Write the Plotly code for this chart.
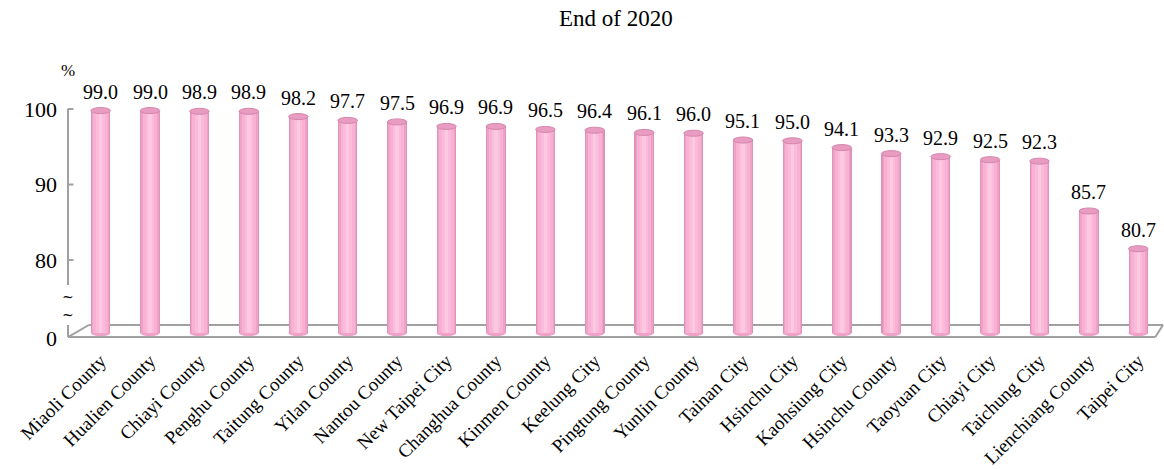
import plotly.graph_objects as go

categories = ["Miaoli County", "Hualien County", "Chiayi County", "Penghu County",
              "Taitung County", "Yilan County", "Nantou County", "New Taipei City",
              "Changhua County", "Kinmen County", "Keelung City", "Pingtung County",
              "Yunlin County", "Tainan City", "Hsinchu City", "Kaohsiung City",
              "Hsinchu County", "Taoyuan City", "Chiayi City", "Taichung City",
              "Lienchiang County", "Taipei City"]
values = [99.0, 99.0, 98.9, 98.9, 98.2, 97.7, 97.5, 96.9, 96.9, 96.5, 96.4,
          96.1, 96.0, 95.1, 95.0, 94.1, 93.3, 92.9, 92.5, 92.3, 85.7, 80.7]
tick_values = [69.6, 80, 90, 100]
tick_labels = ["0", "80", "90", "100"]
title_text = "End of 2020"
unit_text = "%"

FONT = "Liberation Serif"
BASE = 69.55
FLOOR_BACK = 70.6
FLOOR_FRONT = 69.0
GRAY = "#A0A0A0"
idx = list(range(len(categories)))

fig = go.Figure()
layers = [(0.395, "#E092B8"), (0.35, "#EFA2C8"), (0.29, "#F8B0D3"),
          (0.17, "#FBBCDB"), (0.07, "#FDC8E2")]
for w, c in layers:
    fig.add_trace(go.Bar(
        x=idx, y=[v - BASE for v in values], base=BASE, width=w,
        marker=dict(color=c, line=dict(width=0)), hoverinfo="skip",
        showlegend=False))

shapes = []
half = 0.1975
for i, v in zip(idx, values):
    shapes.append(dict(type="circle", xref="x", yref="y", layer="below",
                       x0=i - half, x1=i + half, y0=BASE - 0.45, y1=BASE + 0.45,
                       fillcolor="#EFA2C8", line=dict(width=0)))
    shapes.append(dict(type="circle", xref="x", yref="y", layer="above",
                       x0=i - half, x1=i + half, y0=v - 0.4, y1=v + 0.4,
                       fillcolor="#E89CC2", line=dict(color="#D585AC", width=1)))

x_back0 = 0.019
x_front1 = 0.993
shapes += [
    dict(type="line", xref="paper", yref="y", x0=x_back0, x1=1.0, y0=FLOOR_BACK, y1=FLOOR_BACK,
         line=dict(color=GRAY, width=2), layer="below"),
    dict(type="line", xref="paper", yref="y", x0=0, x1=x_front1, y0=FLOOR_FRONT, y1=FLOOR_FRONT,
         line=dict(color=GRAY, width=2), layer="above"),
    dict(type="line", xref="paper", yref="y", x0=0, x1=x_back0, y0=FLOOR_FRONT, y1=FLOOR_BACK,
         line=dict(color=GRAY, width=2)),
    dict(type="line", xref="paper", yref="y", x0=x_front1, x1=1.0, y0=FLOOR_FRONT, y1=FLOOR_BACK,
         line=dict(color=GRAY, width=2)),
    dict(type="line", xref="paper", yref="y", x0=0, x1=0, y0=FLOOR_FRONT, y1=FLOOR_FRONT + 1.6,
         line=dict(color=GRAY, width=2)),
]
shapes.append(dict(type="line", xref="paper", yref="y", x0=0, x1=0,
                   y0=tick_values[-1] - 0.75, y1=75.9, line=dict(color=GRAY, width=2)))
for t in tick_values[1:]:
    shapes.append(dict(type="line", xref="paper", yref="y", ysizemode="pixel", yanchor=t,
                       x0=0, x1=0.005, y0=-6, y1=-6, line=dict(color=GRAY, width=2)))

annotations = []
for i, v in zip(idx, values):
    annotations.append(dict(x=i, y=v, xref="x", yref="y", text=f"{v:.1f}",
                            showarrow=False, yshift=19, yanchor="middle",
                            font=dict(family=FONT, size=20, color="#000000")))
annotations.append(dict(x=0.5, y=1.0, xref="paper", yref="paper", text=title_text,
                        showarrow=False, yshift=42, yanchor="middle",
                        font=dict(family=FONT, size=23, color="#000")))
annotations.append(dict(x=0.0, y=1, xref="paper", yref="paper", text=unit_text, showarrow=False,
                        xanchor="center", yanchor="middle", yshift=-10,
                        font=dict(family=FONT, size=17, color="#000")))
annotations.append(dict(x=0, y=73.15, xref="paper", yref="y", text="~<br>~", showarrow=False,
                        xanchor="center", yanchor="middle", align="center",
                        font=dict(family="DejaVu Serif", size=14, color="#000")))

fig.update_layout(
    width=1164, height=469,
    margin=dict(l=68, r=1, t=60, b=124),
    paper_bgcolor="white", plot_bgcolor="white",
    barmode="overlay", bargap=0,
    shapes=shapes, annotations=annotations,
    xaxis=dict(range=[-0.66, 21.5], tickmode="array", tickvals=idx, ticktext=categories,
               tickangle=-45, showgrid=False, zeroline=False, showline=False, ticks="",
               tickfont=dict(family=FONT, size=19, color="#000")),
    yaxis=dict(range=[67.95, 105.7], tickmode="array", tickvals=tick_values,
               ticktext=tick_labels, showgrid=False, zeroline=False, showline=False,
               ticks="", ticklabelshift=6, ticklabelstandoff=10,
               tickfont=dict(family=FONT, size=22, color="#000")),
)
fig.write_html("out.html", config={"displayModeBar": False},
               post_script="document.body.style.margin='0';document.body.style.overflow='hidden';")
